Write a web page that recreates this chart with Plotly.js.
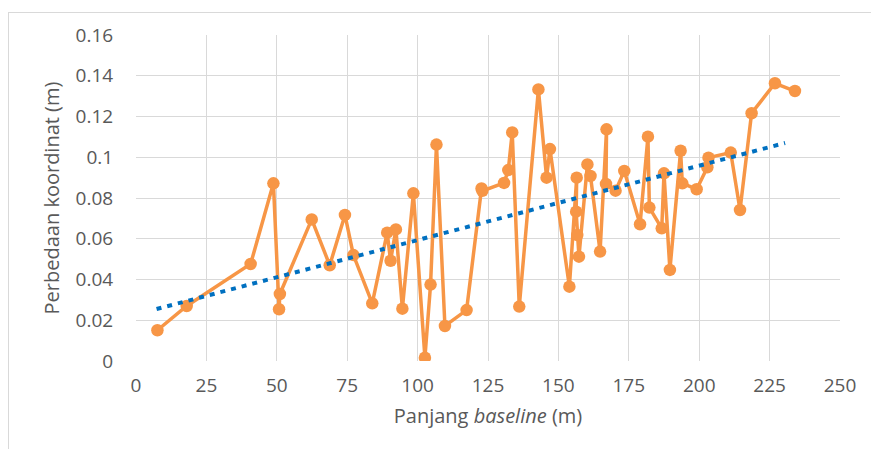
<!DOCTYPE html>
<html><head><meta charset="utf-8">
<script src="https://cdn.plot.ly/plotly-3.0.1.min.js"></script>
<style>
html,body{margin:0;padding:0;background:#fff;}
#wrap{position:relative;width:871px;height:449px;overflow:hidden;}
#frame{position:absolute;left:8px;top:12px;width:900px;height:500px;border-left:1px solid #d9d9d9;border-top:1px solid #d9d9d9;pointer-events:none;}
#chart{position:absolute;left:0;top:0;width:871px;height:449px;}
</style></head>
<body>
<div id="wrap"><div id="chart"></div><div id="frame"></div></div>
<script>
const baselineX = [7.6, 18.0, 40.7, 48.8, 50.8, 51.1, 62.4, 68.8, 74.2, 77.2, 83.9, 89.2, 90.4, 92.3, 94.6, 98.5, 102.6, 104.6, 106.7, 109.7, 117.4, 122.7, 123.0, 130.7, 132.2, 133.6, 136.1, 142.9, 145.8, 147.0, 153.9, 156.5, 156.3, 156.7, 157.3, 160.3, 161.4, 164.8, 167.1, 166.9, 170.3, 173.4, 179.0, 181.8, 182.3, 186.7, 187.5, 189.6, 193.4, 194.0, 199.1, 202.9, 203.3, 211.2, 214.5, 218.6, 226.9, 234.0];
const diffY = [0.0151, 0.0270, 0.0476, 0.0872, 0.0254, 0.0329, 0.0695, 0.0470, 0.0717, 0.0520, 0.0283, 0.0630, 0.0492, 0.0646, 0.0257, 0.0823, 0.0016, 0.0375, 0.1062, 0.0172, 0.0250, 0.0847, 0.0835, 0.0874, 0.0937, 0.1122, 0.0267, 0.1333, 0.0900, 0.1040, 0.0365, 0.0900, 0.0733, 0.0618, 0.0512, 0.0965, 0.0908, 0.0537, 0.1137, 0.0869, 0.0836, 0.0933, 0.0671, 0.1101, 0.0753, 0.0651, 0.0921, 0.0447, 0.1032, 0.0872, 0.0843, 0.0951, 0.0998, 0.1023, 0.0741, 0.1216, 0.1363, 0.1325];
const trendX = [7.3, 230.5];
const trendY = [0.0255, 0.1070];
const xTickVals = [0, 25, 50, 75, 100, 125, 150, 175, 200, 225, 250];
const yTickVals = [0, 0.02, 0.04, 0.06, 0.08, 0.1, 0.12, 0.14, 0.16];
const yTickText = ["0", "0.02", "0.04", "0.06", "0.08", "0.1", "0.12", "0.14", "0.16"];

const fontFam = '"Open Sans", sans-serif';
const data = [
  {x: baselineX, y: diffY, type: 'scatter', mode: 'lines+markers',
   line: {color: '#F79646', width: 3.5}, marker: {color: '#F79646', size: 12.5},
   hoverinfo: 'x+y'},
  {x: trendX, y: trendY, type: 'scatter', mode: 'lines',
   line: {color: '#0070C0', width: 4, dash: '5px,6px'}}
];
const layout = {
  width: 871, height: 449, showlegend: false,
  margin: {l: 136, r: 31, t: 35, b: 88},
  paper_bgcolor: '#fff', plot_bgcolor: '#fff',
  font: {family: fontFam, color: '#595959', size: 19},
  xaxis: {range: [0, 250], tickvals: xTickVals, showgrid: true, gridcolor: '#d9d9d9', gridwidth: 1,
    zeroline: false, showline: false, ticks: 'outside', ticklen: 7, tickcolor: 'rgba(0,0,0,0)',
    tickfont: {size: 19, color: '#595959', family: fontFam},
    title: {text: 'Panjang <i>baseline</i> (m)', font: {size: 20, color: '#595959', family: fontFam}, standoff: 12}},
  yaxis: {range: [0, 0.16], tickvals: yTickVals, ticktext: yTickText, showgrid: true, gridcolor: '#d9d9d9', gridwidth: 1,
    zeroline: false, showline: false, ticks: 'outside', ticklen: 18, tickcolor: 'rgba(0,0,0,0)',
    tickfont: {size: 19, color: '#595959', family: fontFam},
    title: {text: 'Perbedaan koordinat (m)', font: {size: 20, color: '#595959', family: fontFam}, standoff: 10}}
};
Plotly.newPlot('chart', data, layout, {displayModeBar: false, staticPlot: true});
</script>
</body></html>
